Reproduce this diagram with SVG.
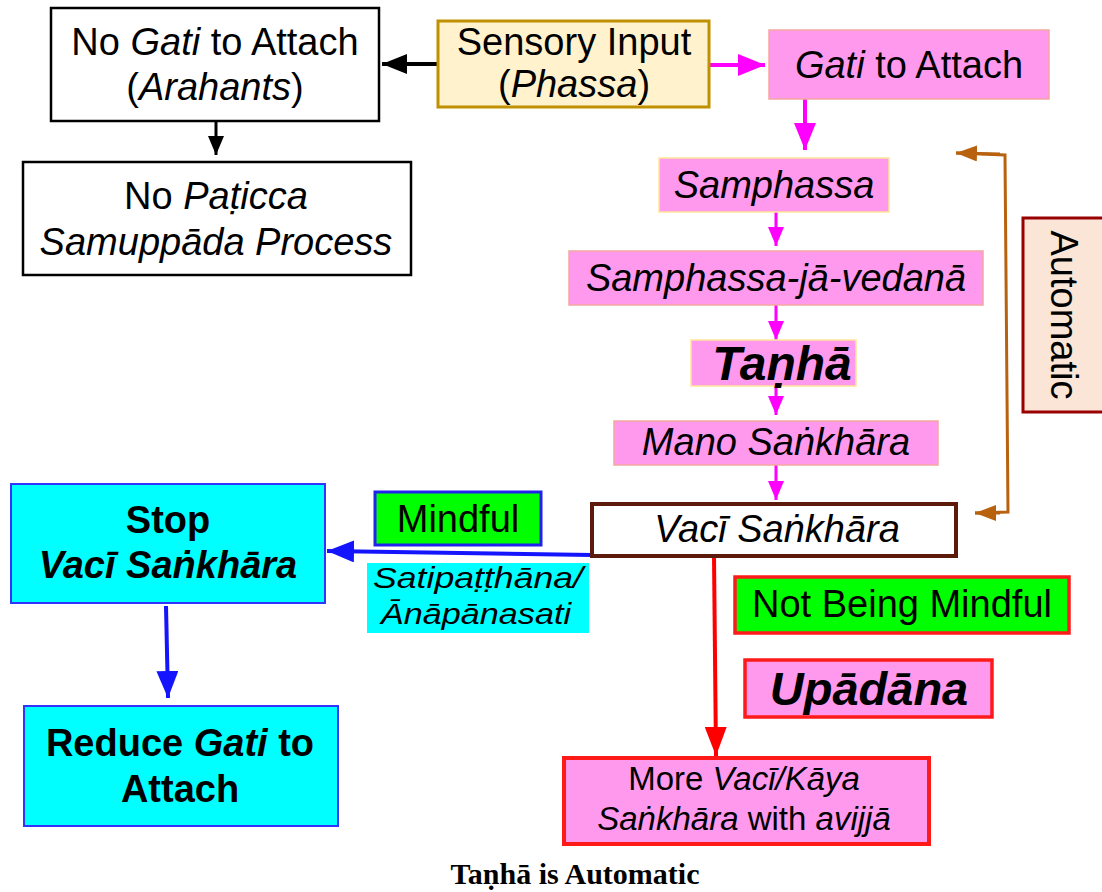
<svg xmlns="http://www.w3.org/2000/svg" width="1102" height="892" viewBox="0 0 1102 892">
<style>
text{font-family:"Liberation Sans",Arial,sans-serif;fill:#000;text-anchor:middle}
.t{font-size:38px}
.i{font-style:italic}
.b{font-weight:bold}
.pink{fill:#FF99EE;stroke:#F4A7A0;stroke-width:1.5}
.pinky{fill:#FF99EE;stroke:#FFE699;stroke-width:1.5}
.cyan{fill:#00FFFF;stroke:#3333FF;stroke-width:2}
.redb{stroke:#FF1A1A;stroke-width:3.5}
.cap{font-family:"Liberation Serif","Times New Roman",serif;font-weight:bold;font-size:30px}
</style>
<defs>
<marker id="hk" markerUnits="userSpaceOnUse" markerWidth="26" markerHeight="20" refX="25" refY="10" orient="auto"><path d="M0,0 L25,10 L0,20 z" fill="#000"/></marker>
<marker id="hks" markerUnits="userSpaceOnUse" markerWidth="20" markerHeight="16" refX="19" refY="8" orient="auto"><path d="M0,0 L19,8 L0,16 z" fill="#000"/></marker>
<marker id="hm" markerUnits="userSpaceOnUse" markerWidth="28" markerHeight="22" refX="27" refY="11" orient="auto"><path d="M0,0 L27,11 L0,22 z" fill="#FF00FF"/></marker>
<marker id="hms" markerUnits="userSpaceOnUse" markerWidth="20" markerHeight="16" refX="19" refY="8" orient="auto"><path d="M0,0 L19,8 L0,16 z" fill="#FF00FF"/></marker>
<marker id="hb" markerUnits="userSpaceOnUse" markerWidth="28" markerHeight="22" refX="27" refY="11" orient="auto"><path d="M0,0 L27,11 L0,22 z" fill="#1414FF"/></marker>
<marker id="hr" markerUnits="userSpaceOnUse" markerWidth="30" markerHeight="22" refX="29" refY="11" orient="auto"><path d="M0,0 L29,11 L0,22 z" fill="#FF0000"/></marker>
<marker id="hbr" markerUnits="userSpaceOnUse" markerWidth="22" markerHeight="16" refX="21" refY="8" orient="auto"><path d="M0,0 L21,8 L0,16 z" fill="#B8620F"/></marker>
</defs>

<g id="connectors" fill="none">
<line x1="437" y1="64" x2="382" y2="64" stroke="#000" stroke-width="4" marker-end="url(#hk)"/>
<line x1="216" y1="121" x2="216" y2="155" stroke="#000" stroke-width="3" marker-end="url(#hks)"/>
<line x1="709" y1="65" x2="765" y2="65" stroke="#FF00FF" stroke-width="4" marker-end="url(#hm)"/>
<line x1="805" y1="99" x2="805" y2="150" stroke="#FF00FF" stroke-width="4" marker-end="url(#hm)"/>
<line x1="776" y1="212" x2="776" y2="246" stroke="#FF00FF" stroke-width="3" marker-end="url(#hms)"/>
<line x1="776" y1="305" x2="776" y2="340" stroke="#FF00FF" stroke-width="3" marker-end="url(#hms)"/>
<line x1="776" y1="386" x2="776" y2="415" stroke="#FF00FF" stroke-width="3" marker-end="url(#hms)"/>
<line x1="776" y1="465" x2="776" y2="500" stroke="#FF00FF" stroke-width="3" marker-end="url(#hms)"/>
<polyline points="975,513 1008,512 1005,155 956,153" stroke="#B8620F" stroke-width="3"/>
<line x1="1000" y1="154" x2="956" y2="153" stroke="#B8620F" stroke-width="3" marker-end="url(#hbr)"/>
<line x1="1000" y1="513" x2="975" y2="513" stroke="#B8620F" stroke-width="3" marker-end="url(#hbr)"/>
<line x1="592" y1="555" x2="327" y2="551" stroke="#1414FF" stroke-width="4" marker-end="url(#hb)"/>
<line x1="166" y1="606" x2="168" y2="698" stroke="#1414FF" stroke-width="4" marker-end="url(#hb)"/>
<line x1="714" y1="556" x2="716" y2="756" stroke="#FF0000" stroke-width="4" marker-end="url(#hr)"/>
</g>

<g id="no-gati">
<rect x="51" y="8" width="328" height="113" fill="#fff" stroke="#000" stroke-width="2.5"/>
<text class="t" x="215" y="55">No <tspan class="i">Gati</tspan> to Attach</text>
<text class="t" x="215" y="100">(<tspan class="i">Arahants</tspan>)</text>
</g>
<g id="no-paticca">
<rect x="23" y="162" width="388" height="113" fill="#fff" stroke="#000" stroke-width="2.5"/>
<text class="t" x="216" y="209">No <tspan class="i">Paṭicca</tspan></text>
<text class="t i" x="216" y="255">Samuppāda Process</text>
</g>
<g id="sensory">
<rect x="438" y="21" width="271" height="86" fill="#FFF2CC" stroke="#BF9000" stroke-width="3"/>
<text class="t" x="574" y="55">Sensory Input</text>
<text class="t" x="574" y="97">(<tspan class="i">Phassa</tspan>)</text>
</g>
<g id="gati">
<rect class="pink" x="769" y="30" width="280" height="69"/>
<text class="t" x="909" y="78"><tspan class="i">Gati</tspan> to Attach</text>
</g>
<g id="samphassa">
<rect class="pinky" x="659" y="158" width="230" height="54"/>
<text class="t i" x="774" y="198">Samphassa</text>
</g>
<g id="vedana">
<rect class="pink" x="569" y="251" width="414" height="54"/>
<text class="t i" x="776" y="291">Samphassa-jā-vedanā</text>
</g>
<g id="tanha">
<rect class="pinky" x="691" y="340" width="165" height="46"/>
<text class="i b" x="782" y="380" font-size="48">Taṇhā</text>
</g>
<g id="mano">
<rect class="pink" x="614" y="421" width="324" height="44"/>
<text class="t i" x="776" y="455">Mano Saṅkhāra</text>
</g>
<g id="vaci">
<rect x="592" y="504" width="364" height="52" fill="#fff" stroke="#5B1A0A" stroke-width="4"/>
<text class="t i" x="777" y="542">Vacī Saṅkhāra</text>
</g>
<g id="automatic">
<rect x="1023" y="218" width="90" height="194" fill="#FBE5D6" stroke="#990000" stroke-width="3"/>
<text class="t" transform="translate(1051,315) rotate(90)">Automatic</text>
</g>
<g id="stop">
<rect class="cyan" x="11" y="484" width="314" height="119"/>
<text class="t b" x="168" y="533">Stop</text>
<text class="t b i" x="168" y="578">Vacī Saṅkhāra</text>
</g>
<g id="mindful">
<rect x="375" y="492" width="166" height="53" fill="#00FF00" stroke="#2222EE" stroke-width="3"/>
<text class="t" x="458" y="532">Mindful</text>
</g>
<g id="satipatthana">
<rect x="367" y="563" width="222" height="70" fill="#00FFFF"/>
<text class="i" x="478" y="588" font-size="30" textLength="210" lengthAdjust="spacingAndGlyphs">Satipaṭṭhāna/</text>
<text class="i" x="476" y="624" font-size="30" textLength="190" lengthAdjust="spacingAndGlyphs">Ānāpānasati</text>
</g>
<g id="reduce">
<rect class="cyan" x="24" y="706" width="314" height="120"/>
<text class="t b" x="180" y="756">Reduce <tspan class="i">Gati</tspan> to</text>
<text class="t b" x="180" y="802">Attach</text>
</g>
<g id="not-mindful">
<rect class="redb" x="735" y="577" width="334" height="56" fill="#00FF00"/>
<text class="t" x="902" y="617">Not Being Mindful</text>
</g>
<g id="upadana">
<rect class="redb" x="745" y="660" width="247" height="57" fill="#FF99EE"/>
<text class="i b" x="869" y="705" font-size="47">Upādāna</text>
</g>
<g id="more">
<rect x="564" y="758" width="365" height="86" fill="#FF99EE" stroke="#FF1A1A" stroke-width="4"/>
<text x="744" y="790" font-size="33">More <tspan class="i">Vacī/Kāya</tspan></text>
<text x="744" y="830" font-size="33"><tspan class="i">Saṅkhāra</tspan> with <tspan class="i">avijjā</tspan></text>
</g>
<text class="cap" x="575" y="884">Taṇhā is Automatic</text>
</svg>
